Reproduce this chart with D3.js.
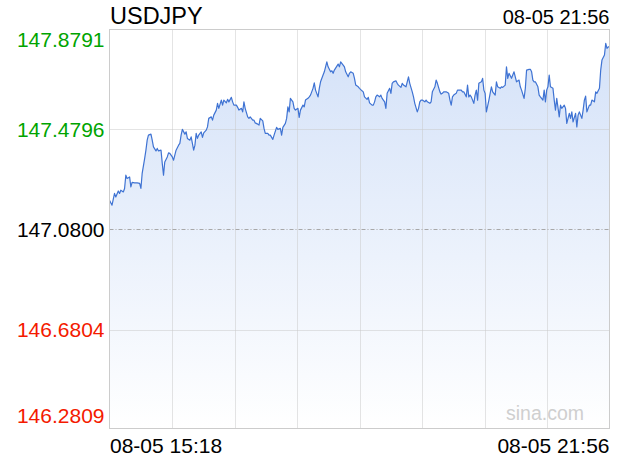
<!DOCTYPE html>
<html><head><meta charset="utf-8">
<script src="https://cdn.jsdelivr.net/npm/d3@7"></script>
<style>html,body{margin:0;padding:0;background:#fff;} svg{display:block;font-family:"Liberation Sans",Arial,Helvetica,sans-serif;}</style>
</head><body><svg id="c" width="620" height="460"></svg>
<script>
const title = "USDJPY";
const startLabel = "08-05 15:18";
const endLabel = "08-05 21:56";
const watermark = "sina.com";
const yTicks = [147.8791, 147.4796, 147.0800, 146.6804, 146.2809];
const prevClose = 147.0800;
// minutes after 15:18
const minutes = [0,2,4,5,7,8,9,11,12,13,14,16,17,18,20,22,24,25,26,28,29,30,31,33,34,35,37,38,39,41,42,43,44,46,47,48,50,51,52,53,55,56,57,58,60,61,62,64,65,67,68,69,70,71,73,74,75,77,78,79,81,82,83,85,86,87,89,90,91,93,94,95,97,98,99,101,102,103,105,106,107,108,110,111,112,114,115,116,118,119,120,122,123,124,126,127,128,130,131,133,134,136,137,138,140,141,142,143,144,146,147,148,150,151,152,154,155,156,158,159,160,162,163,164,166,167,168,170,171,172,173,174,176,177,178,179,181,182,183,184,186,187,188,190,191,192,194,195,196,198,199,201,202,203,205,206,207,209,210,211,212,213,215,216,217,219,220,221,223,224,225,226,228,229,230,232,233,234,236,237,238,239,241,242,243,245,246,247,248,249,251,252,253,255,256,257,259,260,261,263,264,265,266,268,270,271,272,273,274,276,277,278,280,281,282,284,285,286,287,288,290,291,292,293,294,296,297,298,299,300,302,303,304,305,307,308,309,311,312,313,315,316,317,318,320,321,322,323,324,326,327,328,330,331,332,334,335,336,337,338,339,341,342,343,345,346,347,348,349,350,351,353,354,355,356,358,359,360,362,363,364,366,367,368,369,371,372,373,374,376,377,378,379,380,382,383,384,386,387,388,390,391,392,394,395,396,397,398];
const prices = [147.197,147.177,147.224,147.210,147.234,147.224,147.237,147.230,147.244,147.297,
147.284,147.290,147.250,147.268,147.266,147.266,147.264,147.244,147.304,147.364,
147.397,147.437,147.457,147.461,147.437,147.410,147.394,147.404,147.394,147.397,
147.344,147.297,147.350,147.370,147.386,147.384,147.370,147.357,147.377,147.397,
147.417,147.424,147.457,147.480,147.461,147.470,147.444,147.437,147.450,147.397,
147.417,147.464,147.444,147.457,147.470,147.448,147.466,147.477,147.490,147.524,
147.530,147.517,147.537,147.557,147.584,147.564,147.597,147.577,147.597,147.586,
147.600,147.590,147.608,147.590,147.577,147.577,147.568,147.557,147.564,147.550,
147.590,147.564,147.530,147.524,147.530,147.517,147.517,147.506,147.501,147.497,
147.524,147.514,147.484,147.464,147.464,147.457,147.457,147.440,147.457,147.488,
147.480,147.484,147.457,147.488,147.504,147.524,147.570,147.550,147.604,147.590,
147.564,147.557,147.564,147.528,147.557,147.577,147.570,147.597,147.604,147.610,
147.617,147.644,147.666,147.637,147.610,147.644,147.670,147.697,147.710,147.730,
147.750,147.730,147.710,147.714,147.704,147.717,147.733,147.741,147.730,147.750,
147.737,147.730,147.710,147.690,147.704,147.710,147.704,147.684,147.657,147.650,
147.644,147.634,147.630,147.610,147.600,147.608,147.586,147.577,147.577,147.590,
147.610,147.617,147.610,147.617,147.604,147.590,147.564,147.624,147.644,147.624,
147.664,147.670,147.674,147.664,147.657,147.648,147.664,147.657,147.650,147.670,
147.690,147.664,147.630,147.610,147.584,147.550,147.564,147.590,147.597,147.597,
147.590,147.597,147.590,147.584,147.590,147.630,147.650,147.677,147.664,147.630,
147.621,147.624,147.630,147.630,147.624,147.597,147.577,147.610,147.617,147.624,
147.637,147.637,147.637,147.630,147.630,147.610,147.657,147.610,147.617,147.610,
147.584,147.617,147.637,147.597,147.664,147.670,147.684,147.637,147.624,147.550,
147.597,147.624,147.650,147.630,147.617,147.670,147.650,147.644,147.650,147.648,
147.657,147.730,147.684,147.704,147.684,147.697,147.710,147.690,147.670,147.677,
147.650,147.637,147.604,147.644,147.717,147.720,147.720,147.710,147.677,147.670,
147.670,147.650,147.617,147.610,147.597,147.637,147.590,147.637,147.650,147.697,
147.650,147.644,147.597,147.557,147.604,147.530,147.577,147.564,147.577,147.564,
147.504,147.544,147.524,147.550,147.510,147.544,147.490,147.537,147.550,147.524,
147.557,147.597,147.613,147.550,147.577,147.577,147.597,147.590,147.630,147.624,
147.644,147.717,147.757,147.777,147.824,147.804,147.810,147.810];

const svg = d3.select("#c");
const L = 109.5, R = 609.5, T = 29.5, B = 429.5;
const parse = d3.timeParse("%m-%d %H:%M");
const t0 = parse(startLabel), t1 = parse(endLabel);
const x = d3.scaleTime().domain([t0, t1]).range([L, R]);
const y = d3.scaleLinear().domain([yTicks[4], yTicks[0]]).range([B, T]);
const data = minutes.map((m, i) => ({t: d3.timeMinute.offset(t0, m), v: prices[i]}));

const defs = svg.append("defs");
const grad = defs.append("linearGradient").attr("id", "g")
  .attr("gradientUnits", "userSpaceOnUse").attr("x1", 0).attr("x2", 0).attr("y1", T).attr("y2", B);
grad.append("stop").attr("offset", 0).attr("stop-color", "#d3e1f8");
grad.append("stop").attr("offset", 1).attr("stop-color", "#ffffff");

svg.append("path").datum(data)
  .attr("fill", "url(#g)")
  .attr("d", d3.area().x(d => x(d.t)).y0(B).y1(d => y(d.v)));

// vertical grid
const vt = d3.range(1, 8).map(k => new Date(+t0 + k * (t1 - t0) / 8));
svg.selectAll("line.vg").data(vt).enter().append("line")
  .attr("x1", d => Math.round(x(d)) + 0.5).attr("x2", d => Math.round(x(d)) + 0.5)
  .attr("y1", T).attr("y2", B - 1)
  .attr("stroke", "#c8c8c8").attr("stroke-dasharray", "1,1");
// horizontal grid
svg.selectAll("line.hg").data([yTicks[1], yTicks[3]]).enter().append("line")
  .attr("x1", L).attr("x2", R)
  .attr("y1", d => Math.round(y(d)) + 0.5).attr("y2", d => Math.round(y(d)) + 0.5)
  .attr("stroke", "#c8c8c8").attr("stroke-dasharray", "1,1");
svg.append("line")
  .attr("x1", L).attr("x2", R)
  .attr("y1", Math.round(y(prevClose)) + 0.5).attr("y2", Math.round(y(prevClose)) + 0.5)
  .attr("stroke", "#a8a8a8").attr("stroke-dasharray", "4,2,1,2");

svg.append("path").datum(data)
  .attr("fill", "none").attr("stroke", "#3f73d3").attr("stroke-width", 1.2)
  .attr("stroke-linejoin", "round")
  .attr("d", d3.line().x(d => x(d.t)).y(d => y(d.v)));

svg.append("rect").attr("x", L).attr("y", T).attr("width", R - L).attr("height", B - T - 1)
  .attr("fill", "none").attr("stroke", "#cccccc");

svg.append("text").attr("x", 504 + 2).attr("y", 420).attr("font-size", 19.5)
  .attr("fill", "#cfcfcf").text(watermark);

svg.append("text").attr("x", L + 0.5).attr("y", 24).attr("font-size", 23.5).attr("fill", "#000").text(title);
svg.append("text").attr("x", R).attr("y", 24).attr("font-size", 20).attr("text-anchor", "end").attr("fill", "#000").text(endLabel);
svg.append("text").attr("x", L + 0.5).attr("y", 453.3).attr("font-size", 21).attr("fill", "#000").text(startLabel);
svg.append("text").attr("x", R).attr("y", 453.3).attr("font-size", 21).attr("text-anchor", "end").attr("fill", "#000").text(endLabel);

svg.selectAll("text.yl").data(yTicks).enter().append("text")
  .attr("x", 104.5)
  .attr("y", (d, i) => i === 0 ? y(d) + 17.8 : (i === yTicks.length - 1 ? y(d) - 6.2 : y(d) + 7.5))
  .attr("text-anchor", "end").attr("font-size", 21)
  .attr("fill", d => d > prevClose ? "#00a400" : (d < prevClose ? "#f41a00" : "#000"))
  .text(d => d.toFixed(4));
</script></body></html>
